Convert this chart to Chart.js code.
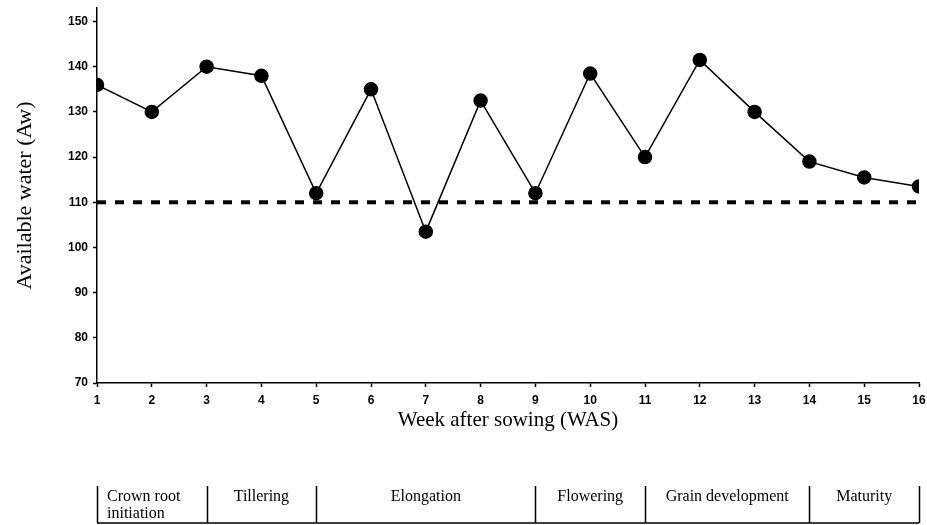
<!DOCTYPE html>
<html>
<head>
<meta charset="utf-8">
<script src="https://cdn.jsdelivr.net/npm/chart.js@4"></script>
<style>
  body { margin: 0; background: #fff; }
  #wrap { width: 927px; height: 525px; }
</style>
</head>
<body>
<div id="wrap"><canvas id="waterChart"></canvas></div>
<script>
const weeks = [1, 2, 3, 4, 5, 6, 7, 8, 9, 10, 11, 12, 13, 14, 15, 16];
const availableWater = [136, 130, 140, 138, 112, 135, 103.5, 132.5, 112, 138.5, 120, 141.5, 130, 119, 115.5, 113.5];
const thresholdWeeks = [1, 16];
const thresholdValue = [110, 110];
const stageNames = [['Crown root', 'initiation'], ['Tillering'], ['Elongation'], ['Flowering'], ['Grain development'], ['Maturity']];
const stageBounds = [1, 3, 5, 9, 11, 14, 16];

// growth stage strip under the axis
const stagePlugin = {
    id: 'stages',
    afterDraw(chart) {
        const ctx = chart.ctx;
        const x = chart.scales.x;
        const top = 486, bottom = 523;
        ctx.save();
        ctx.strokeStyle = '#000';
        ctx.lineWidth = 1.5;
        ctx.beginPath();
        stageBounds.forEach(b => {
            const px = Math.round(x.getPixelForValue(b)) + 0.5;
            ctx.moveTo(px, top);
            ctx.lineTo(px, bottom);
        });
        ctx.moveTo(x.getPixelForValue(stageBounds[0]), bottom);
        ctx.lineTo(x.getPixelForValue(stageBounds[stageBounds.length - 1]), bottom);
        ctx.stroke();

        ctx.fillStyle = '#000';
        ctx.font = '16px "Liberation Serif", "Times New Roman", serif';
        ctx.textBaseline = 'alphabetic';
        stageNames.forEach((lines, i) => {
            const x0 = x.getPixelForValue(stageBounds[i]);
            const x1 = x.getPixelForValue(stageBounds[i + 1]);
            lines.forEach((txt, j) => {
                if (lines.length > 1) {
                    ctx.textAlign = 'left';
                    ctx.fillText(txt, x0 + 10, 501 + j * 17);
                } else {
                    ctx.textAlign = 'center';
                    ctx.fillText(txt, (x0 + x1) / 2, 501);
                }
            });
        });
        ctx.restore();
    }
};

const tickFont = { family: '"Liberation Sans", Arial, sans-serif', size: 12, weight: 'bold' };
const titleFont = { family: '"Liberation Serif", "Times New Roman", serif', size: 21 };

new Chart(document.getElementById('waterChart'), {
    type: 'scatter',
    data: {
        datasets: [{
            label: 'Available water',
            data: weeks.map((w, i) => ({ x: w, y: availableWater[i] })),
            showLine: true,
            borderColor: '#000',
            backgroundColor: '#000',
            borderWidth: 1.5,
            pointRadius: 6.5,
            pointHoverRadius: 6.5
        }, {
            label: 'Threshold',
            data: thresholdWeeks.map((w, i) => ({ x: w, y: thresholdValue[i] })),
            showLine: true,
            borderColor: '#000',
            borderWidth: 4,
            borderDash: [9, 9],
            pointRadius: 0
        }]
    },
    options: {
        responsive: true,
        maintainAspectRatio: false,
        animation: false,
        layout: { padding: { top: 7, right: 7, bottom: 82, left: 0 } },
        plugins: {
            legend: { display: false },
            tooltip: { enabled: false }
        },
        scales: {
            x: {
                type: 'linear',
                min: 1,
                max: 16,
                afterFit: s => { s.height = 60; s.paddingLeft = 0; s.paddingRight = 0; },
                ticks: { stepSize: 1, color: '#000', font: tickFont, padding: 6 },
                grid: { drawOnChartArea: false, color: '#000', tickLength: 4, tickWidth: 1.5 },
                border: { color: '#000', width: 1.5 },
                title: { display: true, text: 'Week after sowing (WAS)', color: '#000', font: titleFont, padding: { top: 4, bottom: 10 } }
            },
            y: {
                min: 70,
                max: 153,
                afterFit: s => { s.width = 97; s.paddingTop = 0; s.paddingBottom = 0; },
                ticks: { stepSize: 10, includeBounds: false, color: '#000', font: tickFont, padding: 5 },
                grid: { drawOnChartArea: false, color: '#000', tickLength: 4, tickWidth: 1.5 },
                border: { color: '#000', width: 1.5 },
                title: { display: true, text: 'Available water (Aw)', color: '#000', font: { family: titleFont.family, size: 22 }, padding: { top: 12, bottom: 0 } }
            }
        }
    },
    plugins: [stagePlugin]
});
</script>
</body>
</html>
